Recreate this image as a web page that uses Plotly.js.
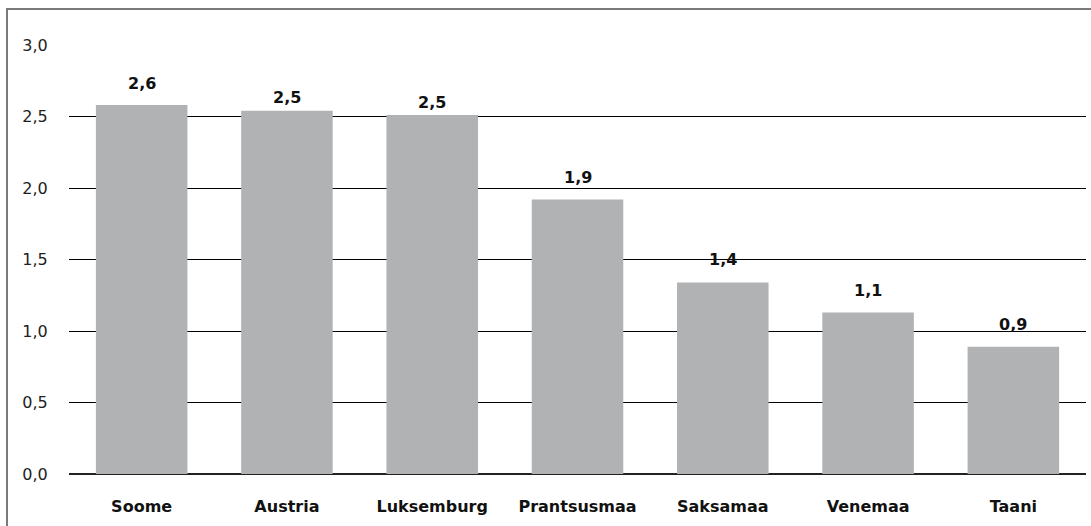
<!DOCTYPE html>
<html>
<head>
<meta charset="utf-8">
<script src="https://cdn.plot.ly/plotly-3.0.1.min.js"></script>
<style>
  html, body { margin: 0; padding: 0; background: #fff; }
  #wrap { position: relative; width: 1091px; height: 526px; }
  #chart { width: 1091px; height: 526px; }
  #frame { position: absolute; left: 6px; top: 8px; width: 1085px; height: 518px;
           border-top: 2px solid #7a7a7a; border-left: 2px solid #7a7a7a; box-sizing: border-box; pointer-events: none; }
</style>
</head>
<body>
<div id="wrap">
  <div id="chart"></div>
  <div id="frame"></div>
</div>
<script>
const categories = ["Soome", "Austria", "Luksemburg", "Prantsusmaa", "Saksamaa", "Venemaa", "Taani"];
const values = [2.58, 2.54, 2.51, 1.92, 1.34, 1.13, 0.89];
const valueLabels = ["2,6", "2,5", "2,5", "1,9", "1,4", "1,1", "0,9"];
const yTickVals = [0, 0.5, 1, 1.5, 2, 2.5, 3];
const yTickText = ["0,0", "0,5", "1,0", "1,5", "2,0", "2,5", "3,0"];

const labelShift = [22, 13, 13, 22, 23, 22, 22];
const FONT = "DejaVu Sans, Liberation Sans, Arial, sans-serif";

const trace = {
  type: "bar",
  x: categories,
  y: values,
  marker: { color: "#b1b2b4", line: { width: 0 } },
  hoverinfo: "none"
};

const annotations = categories.map((c, i) => ({
  x: c, y: values[i], xref: "x", yref: "y",
  text: "<b>" + valueLabels[i] + "</b>",
  showarrow: false, yanchor: "middle", yshift: labelShift[i],
  font: { family: FONT, size: 16, color: "#111" }
}));

const layout = {
  width: 1091, height: 526,
  margin: { l: 69, r: 5, t: 45, b: 52, pad: 0 },
  paper_bgcolor: "#fff", plot_bgcolor: "#fff",
  bargap: 0.37,
  showlegend: false,
  font: { family: FONT, size: 16, color: "#222" },
  xaxis: {
    type: "category",
    tickfont: { family: FONT, size: 16, color: "#111", weight: "bold" },
    ticks: "outside", ticklen: 18, tickcolor: "rgba(0,0,0,0)",
    showgrid: false, showline: false, zeroline: false, fixedrange: true
  },
  yaxis: {
    range: [0, 3],
    tickvals: yTickVals, ticktext: yTickText,
    ticks: "outside", ticklen: 17, tickcolor: "rgba(0,0,0,0)",
    tickfont: { family: FONT, size: 16, color: "#222" },
    showgrid: true, gridcolor: "#000", gridwidth: 1,
    zeroline: true, zerolinecolor: "#222", zerolinewidth: 2,
    showline: false, fixedrange: true
  },
  annotations: annotations
};

Plotly.newPlot("chart", [trace], layout, { displayModeBar: false, staticPlot: true });
</script>
</body>
</html>
